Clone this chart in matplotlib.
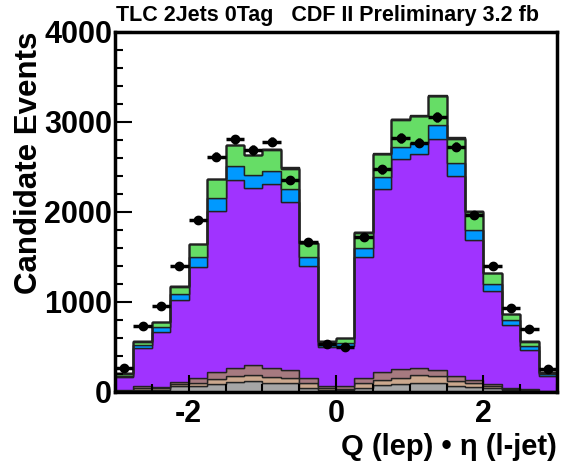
import numpy as np
import matplotlib
matplotlib.use("Agg")
import matplotlib.pyplot as plt
from matplotlib.ticker import MultipleLocator

# bin edges: 24 bins of 0.25 from -3 to 3
edges = np.linspace(-3, 3, 25)

# cumulative stack tops (events per bin)
top_gray = [10, 26, 26, 63, 63, 85, 115, 122, 104, 104, 48, 22,
            22, 48, 74, 85, 104, 104, 63, 56, 41, 20, 12, 5]
top_tan = [14, 40, 40, 85, 104, 141, 178, 189, 167, 159, 104, 41,
           35, 96, 133, 159, 185, 178, 122, 96, 67, 30, 20, 10]
top_mauve = [20, 63, 56, 115, 152, 219, 270, 296, 270, 241, 152, 63,
             63, 152, 219, 252, 263, 241, 178, 130, 85, 48, 33, 15]
top_purple = [170, 485, 670, 1022, 1393, 2015, 2356, 2270, 2307, 2115, 1400, 496,
              508, 1504, 2252, 2585, 2641, 2807, 2400, 1689, 1126, 744, 467, 178]
top_blue = [180, 522, 718, 1089, 1496, 2152, 2511, 2411, 2456, 2252, 1496, 522,
            541, 1596, 2393, 2719, 2763, 2967, 2548, 1800, 1200, 800, 511, 195]
top_green = [205, 559, 774, 1170, 1644, 2367, 2744, 2633, 2692, 2482, 1652, 559,
             596, 1770, 2642, 3020, 3062, 3284, 2812, 2004, 1319, 867, 559, 215]
top_orange = [207, 561, 776, 1172, 1646, 2369, 2746, 2636, 2702, 2492, 1655, 561,
              598, 1774, 2648, 3032, 3068, 3290, 2818, 2006, 1321, 869, 561, 217]
top_red = [209, 563, 778, 1174, 1648, 2371, 2748, 2638, 2705, 2495, 1657, 563,
           600, 1776, 2651, 3036, 3080, 3302, 2832, 2008, 1323, 871, 563, 219]

data = [267, 733, 956, 1400, 1911, 2615, 2807, 2689, 2781, 2356, 1663, 533,
        496, 1726, 2474, 2819, 2770, 3052, 2726, 1963, 1404, 937, 704, 252]

layers = [
    (top_gray, "#a6a6a6"),
    (top_tan, "#cba88e"),
    (top_mauve, "#a67a80"),
    (top_purple, "#a033ff"),
    (top_blue, "#0099ff"),
    (top_green, "#66dd66"),
    (top_orange, "#ffaa00"),
    (top_red, "#ff3300"),
]

plt.rcParams["font.family"] = ["Liberation Sans", "DejaVu Sans"]
plt.rcParams["font.weight"] = "bold"

fig = plt.figure(figsize=(5.61, 4.70), dpi=100)
ax = fig.add_axes([0.205, 0.166, 0.788, 0.766])

base = np.zeros(len(edges) - 1)
for top, col in layers:
    top = np.asarray(top, dtype=float)
    ax.stairs(top, edges, baseline=base, fill=True, facecolor=col,
              edgecolor="#222222", linewidth=1.0)
    base = top

centers = 0.5 * (edges[:-1] + edges[1:])
ax.errorbar(centers, data, xerr=0.125, yerr=np.sqrt(data), fmt="o",
            color="black", ms=6, elinewidth=2.5, capsize=0)

ax.set_xlim(-3, 3)
ax.set_ylim(0, 4000)
ax.xaxis.set_major_locator(MultipleLocator(2))
ax.xaxis.set_minor_locator(MultipleLocator(0.5))
ax.yaxis.set_major_locator(MultipleLocator(1000))
ax.yaxis.set_minor_locator(MultipleLocator(200))
ax.tick_params(which="both", direction="in", top=False, right=False, width=1.5)
ax.tick_params(which="major", length=12, labelsize=22)
ax.tick_params(which="minor", length=6)
ax.tick_params(axis="y", pad=2)
ax.tick_params(axis="x", pad=5)
ax.xaxis.set_major_formatter(plt.FuncFormatter(lambda v, p: f"{v:.0f}".replace("\u2212", "-")))
for s in ax.spines.values():
    s.set_linewidth(2.5)

ax.set_ylabel("Candidate Events", fontsize=22.5, fontweight="bold", loc="top", labelpad=0)
ax.set_xlabel("Q (lep) \u2022 \u03b7 (l-jet)", fontsize=21, fontweight="bold", loc="right", labelpad=3)

fig.text(116 / 561, 1 - 5 / 470, "TLC 2Jets 0Tag   CDF II Preliminary 3.2 fb",
         fontsize=15.5, fontweight="bold", ha="left", va="top")

fig.savefig("out.png", dpi=100)
